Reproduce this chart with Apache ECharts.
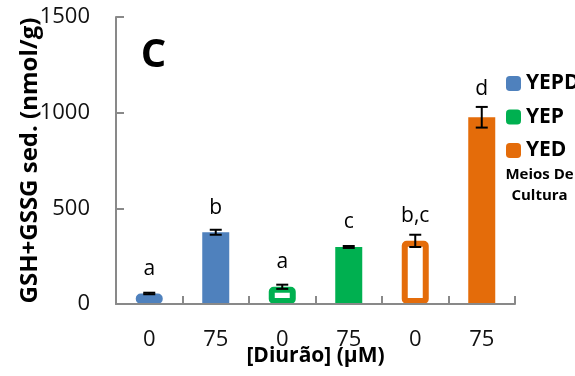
<!DOCTYPE html>
<html>
<head>
<meta charset="utf-8">
<script src="https://cdn.jsdelivr.net/npm/echarts@6/dist/echarts.min.js"></script>
<style>
html,body{margin:0;padding:0;background:#fff;}
#c{width:575px;height:376px;}
</style>
</head>
<body>
<div id="c"></div>
<script>
// ---- data ----
const categories = ['0', '75', '0', '75', '0', '75'];
const media = ['YEPD', 'YEPD', 'YEP', 'YEP', 'YED', 'YED'];
const values = [55, 375, 90, 298, 330, 976];
const errors = [4, 13, 11, 5, 32, 54];
const letters = ['a', 'b', 'a', 'c', 'b,c', 'd'];
const hollow = [true, false, true, false, true, false];
const seriesNames = ['YEPD', 'YEP', 'YED'];
const yTicks = [0, 500, 1000, 1500];

const colors = {YEPD: '#4F81BD', YEP: '#00B050', YED: '#E46C0A'};
const FONT = '"Open Sans", "Liberation Sans", sans-serif';

const chart = echarts.init(document.getElementById('c'), null, {renderer: 'canvas'});

const barSeries = seriesNames.map(name => ({
  name: name,
  type: 'bar',
  barWidth: 27,
  barGap: '-100%',
  itemStyle: {color: colors[name]},
  z: 2,
  data: values.map((v, i) => {
    if (media[i] !== name) return '-';
    if (hollow[i]) {
      return {value: v, itemStyle: {color: '#ffffff', borderColor: colors[name], borderWidth: 6, borderRadius: 2}};
    }
    return v;
  })
}));

const errData = values.map((v, i) => [i, v - errors[i], v + errors[i], v]);

const errSeries = {
  type: 'custom',
  z: 10,
  silent: true,
  data: errData,
  encode: {x: 0, y: [1, 2]},
  renderItem: function (params, api) {
    const x = api.value(0);
    const lo = api.coord([x, api.value(1)]);
    const hi = api.coord([x, api.value(2)]);
    const val = api.coord([x, api.value(3)]);
    const cx = hi[0];
    const hw = 6;
    const st = {stroke: '#000', lineWidth: 2};
    const baseline = Math.min(val[1] - 19, hi[1] - 12);
    return {
      type: 'group',
      children: [
        {type: 'line', shape: {x1: cx, y1: lo[1], x2: cx, y2: hi[1]}, style: st},
        {type: 'line', shape: {x1: cx - hw, y1: lo[1], x2: cx + hw, y2: lo[1]}, style: st},
        {type: 'line', shape: {x1: cx - hw, y1: hi[1], x2: cx + hw, y2: hi[1]}, style: st},
        {type: 'text', x: cx, y: baseline - 5.5,
          style: {text: letters[params.dataIndex], fill: '#000', font: '21px ' + FONT,
            textAlign: 'center', textVerticalAlign: 'middle'}}
      ]
    };
  }
};

const option = {
  animation: false,
  backgroundColor: '#ffffff',
  grid: {left: 116, right: 60, top: 17, bottom: 72, containLabel: false, outerBoundsMode: 'none'},
  legend: {
    data: seriesNames,
    orient: 'vertical',
    left: 506,
    top: 73,
    padding: 0,
    itemWidth: 15,
    itemHeight: 15,
    itemGap: 12.5,
    icon: 'roundRect',
    textStyle: {fontFamily: FONT, fontWeight: 'bold', fontSize: 21, color: '#000', lineHeight: 21}
  },
  graphic: [
    {type: 'text', x: 153.5, y: 56,
      style: {text: 'C', font: 'bold 40px ' + FONT, fill: '#000', textAlign: 'center', textVerticalAlign: 'middle'}},
    {type: 'text', x: 539.5, y: 185,
      style: {text: 'Meios De\nCultura', font: 'bold 15px ' + FONT, fill: '#000', textAlign: 'center', textVerticalAlign: 'middle', lineHeight: 21}}
  ],
  xAxis: {
    type: 'category',
    z: 5,
    data: categories,
    name: '[Diurão] (μM)',
    nameLocation: 'middle',
    nameMoveOverlap: false,
    nameGap: 42,
    nameTextStyle: {fontFamily: FONT, fontWeight: 'bold', fontSize: 21, color: '#000'},
    axisLine: {lineStyle: {color: '#898989', width: 2}},
    axisTick: {show: true, inside: true, length: 8, lineStyle: {color: '#898989', width: 2}},
    axisLabel: {fontFamily: FONT, fontSize: 22, color: '#111', margin: 25}
  },
  yAxis: {
    type: 'value',
    z: 5,
    min: yTicks[0],
    max: yTicks[yTicks.length - 1],
    interval: 500,
    name: 'GSH+GSSG sed. (nmol/g)',
    nameLocation: 'middle',
    nameMoveOverlap: false,
    nameGap: 74,
    nameTextStyle: {fontFamily: FONT, fontWeight: 'bold', fontSize: 24, color: '#000'},
    axisLine: {show: true, lineStyle: {color: '#898989', width: 2}},
    axisTick: {show: true, inside: true, length: 8, lineStyle: {color: '#898989', width: 2}},
    splitLine: {show: false},
    axisLabel: {fontFamily: FONT, fontSize: 22, color: '#111', margin: 26, formatter: v => String(v)}
  },
  series: [...barSeries, errSeries]
};

chart.setOption(option);
</script>
</body>
</html>
